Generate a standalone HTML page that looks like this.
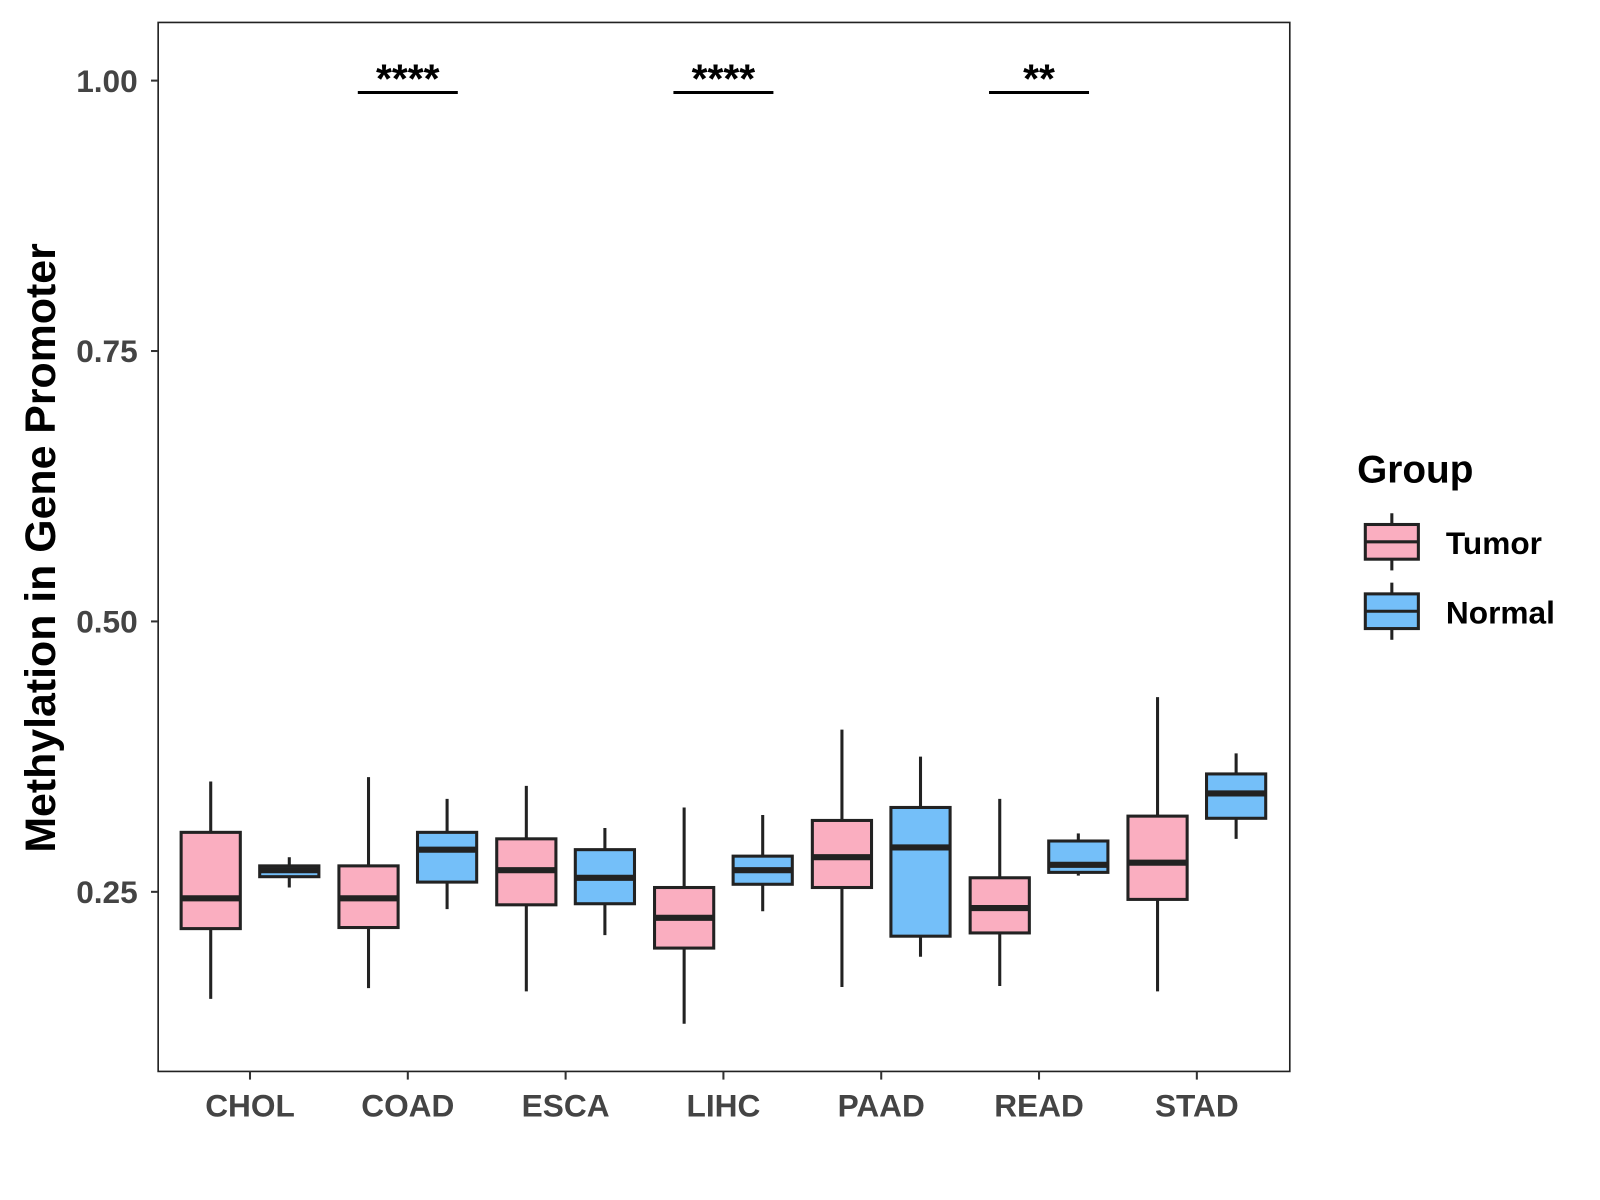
<!DOCTYPE html>
<html><head><meta charset="utf-8"><style>
html,body{margin:0;padding:0;background:#fff;}
svg{display:block;font-family:"Liberation Sans",Arial,sans-serif;}
</style></head><body>
<svg id="chart" width="1600" height="1200" viewBox="0 0 1568 1176" xmlns="http://www.w3.org/2000/svg">
<rect x="0" y="0" width="1568" height="1176" fill="#fff"/>
<g id="plot"></g>
<text transform="translate(54,537) rotate(-90)" text-anchor="middle" font-size="42" font-weight="bold" fill="#000">Methylation in Gene Promoter</text>
<g>
<text x="1330" y="473" font-size="38" font-weight="bold" fill="#000">Group</text>
<g>
<line x1="1364" y1="503" x2="1364" y2="559" stroke="#222" stroke-width="3"/>
<rect x="1338" y="514" width="52" height="34" fill="#FAAEC0" stroke="#222" stroke-width="3"/>
<line x1="1338" y1="531" x2="1390" y2="531" stroke="#222" stroke-width="3"/>
<text x="1417" y="543" font-size="31" font-weight="bold" fill="#000">Tumor</text>
</g>
<g>
<line x1="1364" y1="571" x2="1364" y2="627" stroke="#222" stroke-width="3"/>
<rect x="1338" y="582" width="52" height="34" fill="#74BFF9" stroke="#222" stroke-width="3"/>
<line x1="1338" y1="599" x2="1390" y2="599" stroke="#222" stroke-width="3"/>
<text x="1417" y="611" font-size="31" font-weight="bold" fill="#000">Normal</text>
</g>
</g>
</svg>
<script>
const categories=["CHOL","COAD","ESCA","LIHC","PAAD","READ","STAD"];
const tumorMin=[0.151,0.161,0.158,0.128,0.162,0.163,0.158];
const tumorQ1=[0.216,0.217,0.238,0.198,0.254,0.212,0.243];
const tumorMed=[0.244,0.244,0.270,0.226,0.282,0.235,0.277];
const tumorQ3=[0.305,0.274,0.299,0.254,0.316,0.263,0.320];
const tumorMax=[0.352,0.356,0.348,0.328,0.400,0.336,0.430];
const normalMin=[0.254,0.234,0.210,0.232,0.190,0.265,0.299];
const normalQ1=[0.264,0.259,0.239,0.257,0.209,0.268,0.318];
const normalMed=[0.270,0.289,0.263,0.270,0.291,0.275,0.341];
const normalQ3=[0.274,0.305,0.289,0.283,0.328,0.297,0.359];
const normalMax=[0.282,0.336,0.309,0.321,0.375,0.304,0.378];
const yTicks=[0.25,0.50,0.75,1.00];
const yTickLabels=["0.25","0.50","0.75","1.00"];
const sigCategories=["COAD","LIHC","READ"];
const sigLabels=["****","****","**"];
const sigY=0.989;

const NS="http://www.w3.org/2000/svg";
const P={l:155,t:22,r:1264,b:1050};
function y(v){return 874-(v-0.25)*1060;}
function x(i){return 245+i*154.65;}
const g=document.getElementById('plot');
function el(tag,a,parent){const e=document.createElementNS(NS,tag);for(const k in a)e.setAttribute(k,a[k]);(parent||g).appendChild(e);return e;}

const frame=el('rect',{x:P.l,y:P.t,width:P.r-P.l,height:P.b-P.t,fill:'none',stroke:'#222','stroke-width':1.6});



yTicks.forEach((v,i)=>{
  const t=el('line',{x1:P.l-7,x2:P.l,y1:y(v),y2:y(v),stroke:'#333','stroke-width':2});
  
  
  const tx=el('text',{x:P.l-20,y:y(v)+11,'text-anchor':'end','font-size':31,'font-weight':'bold',fill:'#444'});
  tx.textContent=yTickLabels[i];
  
  
});
categories.forEach((c,i)=>{
  const t=el('line',{x1:x(i),x2:x(i),y1:P.b,y2:P.b+8,stroke:'#333','stroke-width':2});
  
  
  const tx=el('text',{x:x(i),y:P.b+44,'text-anchor':'middle','font-size':31,'font-weight':'bold',fill:'#444'});
  tx.textContent=c;
  
  
});

function box(cx,mn,q1,md,q3,mx,fill,name){
  const bg=el('g',{});
  
  
  const w=58;
  el('line',{x1:cx,x2:cx,y1:y(mx),y2:y(mn),stroke:'#222','stroke-width':3},bg);
  el('rect',{x:cx-w/2,y:y(q3),width:w,height:y(q1)-y(q3),fill:fill,stroke:'#222','stroke-width':3},bg);
  el('line',{x1:cx-w/2,x2:cx+w/2,y1:y(md),y2:y(md),stroke:'#222','stroke-width':6},bg);
}
categories.forEach((c,i)=>{
  box(x(i)-38.5,tumorMin[i],tumorQ1[i],tumorMed[i],tumorQ3[i],tumorMax[i],'#FAAEC0','box-tumor-'+c.toLowerCase());
  box(x(i)+38.5,normalMin[i],normalQ1[i],normalMed[i],normalQ3[i],normalMax[i],'#74BFF9','box-normal-'+c.toLowerCase());
});
sigCategories.forEach((c,k)=>{
  const i=categories.indexOf(c);
  const l=el('line',{x1:x(i)-49,x2:x(i)+49,y1:y(sigY),y2:y(sigY),stroke:'#000','stroke-width':3});
  
  
  const t=el('text',{x:x(i),y:y(sigY)+0,'text-anchor':'middle','font-size':40,'font-weight':'bold',fill:'#000'});
  t.textContent=sigLabels[k];
  
  
});
</script>
</body></html>
